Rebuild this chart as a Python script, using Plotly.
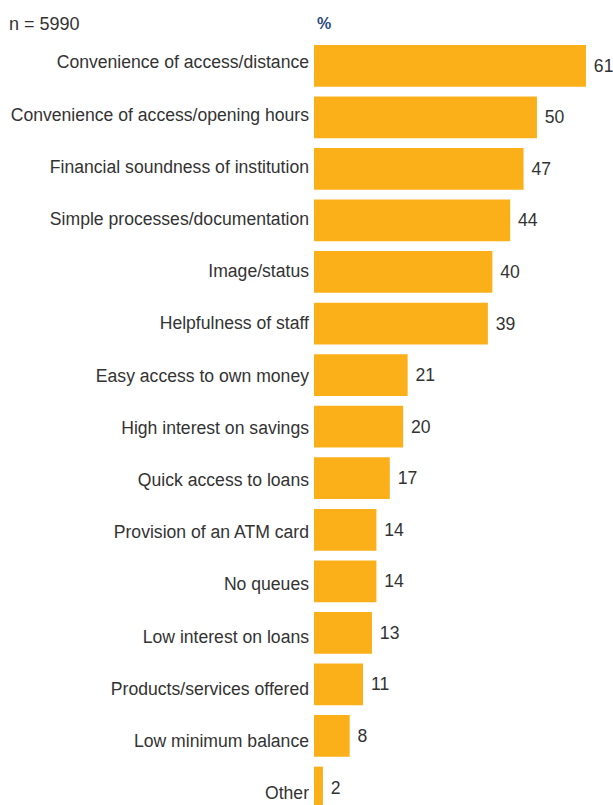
import plotly.graph_objects as go

# Reasons for choosing a financial institution (% of respondents)
categories = [
    "Convenience of access/distance",
    "Convenience of access/opening hours",
    "Financial soundness of institution",
    "Simple processes/documentation",
    "Image/status",
    "Helpfulness of staff",
    "Easy access to own money",
    "High interest on savings",
    "Quick access to loans",
    "Provision of an ATM card",
    "No queues",
    "Low interest on loans",
    "Products/services offered",
    "Low minimum balance",
    "Other",
]
values = [61, 50, 47, 44, 40, 39, 21, 20, 17, 14, 14, 13, 11, 8, 2]
sample_note = "n = 5990"
unit_label = "%"

BAR_COLOR = "#FBAF18"
TEXT_COLOR = "#333333"
FONT = "Liberation Sans, Arial, sans-serif"

positions = list(range(len(categories)))

fig = go.Figure()

fig.add_trace(go.Bar(
    x=values,
    y=positions,
    orientation="h",
    width=0.81,
    marker=dict(color=BAR_COLOR, line=dict(width=0)),
    text=values,
    texttemplate=" %{text}",
    textposition="outside",
    textfont=dict(family=FONT, size=17.6, color=TEXT_COLOR),
    cliponaxis=False,
    hoverinfo="skip",
    showlegend=False,
))

# invisible companion trace carrying the category labels on the overlay axis
fig.add_trace(go.Scatter(
    x=values,
    y=positions,
    yaxis="y2",
    mode="markers",
    marker=dict(opacity=0),
    hoverinfo="skip",
    showlegend=False,
))

fig.update_layout(
    width=613,
    height=805,
    margin=dict(l=314, r=0, t=40, b=0),
    paper_bgcolor="white",
    plot_bgcolor="white",
    font=dict(family=FONT, color=TEXT_COLOR),
    xaxis=dict(
        range=[0, 67.06],
        visible=False,
        showgrid=False,
        zeroline=False,
        fixedrange=True,
    ),
    yaxis=dict(
        range=[14.339, -0.5],
        showticklabels=False,
        showgrid=False,
        zeroline=False,
        showline=False,
        ticks="",
        fixedrange=True,
    ),
    yaxis2=dict(
        overlaying="y",
        side="left",
        range=[14.23, -0.425],
        tickmode="array",
        tickvals=positions,
        ticktext=categories,
        tickfont=dict(family=FONT, size=17.6, color=TEXT_COLOR),
        ticks="",
        ticklabelstandoff=4,
        showgrid=False,
        zeroline=False,
        showline=False,
        fixedrange=True,
    ),
    annotations=[
        dict(
            text=sample_note,
            xref="paper", yref="paper",
            x=-1.0258, y=1.0209,
            xanchor="left", yanchor="middle",
            showarrow=False,
            font=dict(family=FONT, size=18, color=TEXT_COLOR),
        ),
        dict(
            text="<b>%s</b>" % unit_label,
            xref="paper", yref="paper",
            x=0.005, y=1.0222,
            xanchor="left", yanchor="middle",
            showarrow=False,
            font=dict(family=FONT, size=16, color="#2B4A7E"),
        ),
    ],
)

fig.write_html("out.html")
